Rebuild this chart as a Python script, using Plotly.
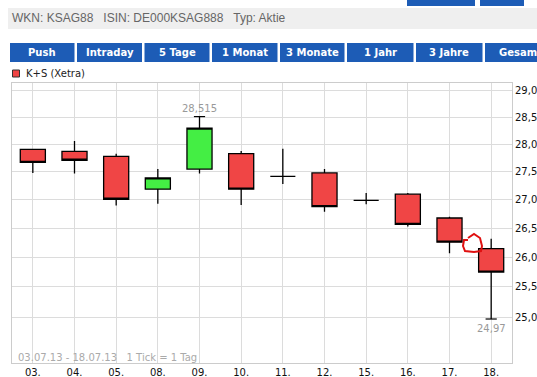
import math
import plotly.graph_objects as go

# ---------------- data ----------------
dates = ["03.", "04.", "05.", "08.", "09.", "10.", "11.", "12.", "15.", "16.", "17.", "18."]
open_ = [27.91, 27.87, 27.78, 27.19, 27.55, 27.83, 27.42, 27.48, 26.99, 27.10, 26.68, 26.15]
close = [27.67, 27.71, 27.01, 27.39, 28.30, 27.19, 27.42, 26.88, 26.99, 26.57, 26.26, 25.75]
high = [27.92, 28.06, 27.83, 27.55, 28.515, 27.88, 27.92, 27.55, 27.12, 27.12, 26.70, 26.32]
low = [27.48, 27.47, 26.90, 26.93, 27.47, 26.91, 27.28, 26.79, 26.92, 26.53, 26.07, 24.97]
y_ticks = [25.0, 25.5, 26.0, 26.5, 27.0, 27.5, 28.0, 28.5, 29.0]
y_tick_labels = ["25,0", "25,5", "26,0", "26,5", "27,0", "27,5", "28,0", "28,5", "29,0"]
tabs = ["Push", "Intraday", "5 Tage", "1 Monat", "3 Monate", "1 Jahr", "3 Jahre", "Gesam"]
series_name = "K+S (Xetra)"
header_text = "WKN: KSAG88   ISIN: DE000KSAG888   Typ: Aktie"
range_text = "03.07.13 - 18.07.13   1 Tick = 1 Tag"

# ---------------- geometry helpers ----------------
W, H = 537, 377
L, R, T, B = 12, 25, 83, 14
PW, PH = W - L - R, H - T - B


def px(X):
    return (X - L) / PW


def py(Y):
    return (H - B - Y) / PH


RED = "#F04545"
GREEN = "#44EE44"
BLUE = "#1D5CB6"
FONT = "DejaVu Sans"

fig = go.Figure()
fig.add_trace(go.Candlestick(
    x=dates, open=open_, high=high, low=low, close=close,
    increasing=dict(fillcolor=GREEN, line=dict(color="black", width=1.3)),
    decreasing=dict(fillcolor=RED, line=dict(color="black", width=1.3)),
    whiskerwidth=0, showlegend=False, hoverinfo="skip", name=series_name,
))

# caps at extreme high / low
i_hi = max(range(len(high)), key=lambda i: high[i])
i_lo = min(range(len(low)), key=lambda i: low[i])
fig.add_trace(go.Scatter(
    x=[dates[i_hi], dates[i_lo]], y=[high[i_hi], low[i_lo]], mode="markers",
    marker=dict(symbol="line-ew", size=8, line=dict(width=1.2, color="black")),
    showlegend=False, hoverinfo="skip",
))


def de(v, nd):
    return f"{v:.{nd}f}".replace(".", ",")


annotations = [
    dict(x=i_hi, y=math.log10(high[i_hi]), xref="x", yref="y", text=de(high[i_hi], 3),
         showarrow=False, yanchor="bottom", yshift=1, font=dict(family=FONT, size=10, color="#999999")),
    dict(x=i_lo, y=math.log10(low[i_lo]), xref="x", yref="y", text=de(low[i_lo], 2),
         showarrow=False, yanchor="top", yshift=-2, font=dict(family=FONT, size=10, color="#999999")),
    dict(x=px(16), y=py(357), xref="paper", yref="paper", text=range_text, showarrow=False,
         xanchor="left", yanchor="middle", font=dict(family=FONT, size=10, color="#AAAAAA")),
    dict(x=px(24), y=py(73.5), xref="paper", yref="paper", text=series_name, showarrow=False,
         xanchor="left", yanchor="middle", font=dict(family=FONT, size=10, color="#222222")),
    dict(x=px(10), y=py(18), xref="paper", yref="paper", text=header_text, showarrow=False,
         xanchor="left", yanchor="middle", font=dict(family="Liberation Sans", size=12, color="#666666")),
]

shapes = [
    # header band
    dict(type="rect", xref="paper", yref="paper", x0=px(8), x1=px(537), y0=py(8), y1=py(29),
         fillcolor="#EFEFEF", line=dict(width=0), layer="below"),
    # top right blue buttons
    dict(type="rect", xref="paper", yref="paper", x0=px(407), x1=px(475), y0=py(0), y1=py(6),
         fillcolor=BLUE, line=dict(width=0)),
    dict(type="rect", xref="paper", yref="paper", x0=px(480), x1=px(524), y0=py(0), y1=py(6),
         fillcolor=BLUE, line=dict(width=0)),
    # legend swatch
    dict(type="rect", xref="paper", yref="paper", x0=px(12.5), x1=px(19.5), y0=py(70), y1=py(77),
         fillcolor=RED, line=dict(width=1, color="#333333")),
]

# tab bar
tab_edges = [10, 77, 144.5, 212, 280, 347, 416, 485, 552]
for i, t in enumerate(tabs):
    x0, x1 = tab_edges[i], tab_edges[i + 1] - 2.5
    shapes.append(dict(type="rect", xref="paper", yref="paper", x0=px(x0), x1=px(x1),
                       y0=py(43), y1=py(62), fillcolor=BLUE, line=dict(width=0)))
    last = i == len(tabs) - 1
    cx = x0 + 12 if last else (x0 + x1) / 2
    annotations.append(dict(x=px(cx), y=py(52.5), xref="paper", yref="paper", text=t,
                            showarrow=False, xanchor="left" if last else "center",
                            yanchor="middle",
                            font=dict(family=FONT, size=10, color="white", weight="bold")))

# red hand-drawn mark between the last two candles
pts = [(468, 238), (474, 234), (480, 238), (482, 246), (481, 251), (474, 252), (465, 251),
       (463, 246), (464, 240), (468, 240)]
path = "M " + " L ".join(f"{px(a):.5f},{py(b):.5f}" for a, b in pts)
shapes.append(dict(type="path", xref="paper", yref="paper", path=path,
                   line=dict(color="#E01010", width=2)))

fig.update_layout(
    width=W, height=H, autosize=False,
    margin=dict(l=L, r=R, t=T, b=B, pad=0, autoexpand=False),
    paper_bgcolor="white", plot_bgcolor="white",
    separators=",.",
    boxgap=0.14,
    showlegend=False,
    annotations=annotations, shapes=shapes,
    xaxis=dict(type="category", range=[-0.5, len(dates) - 0.5], rangeslider=dict(visible=False),
               automargin=False,
               showgrid=True, gridcolor="#DCDCDC", gridwidth=1,
               showline=True, mirror=True, linecolor="#CCCCCC", linewidth=1,
               ticks="", tickfont=dict(family=FONT, size=10, color="#111111"), fixedrange=True),
    yaxis=dict(type="log", side="right", automargin=False,
               range=[math.log10(24.26), math.log10(29.15)],
               tickvals=y_ticks, ticktext=y_tick_labels,
               showgrid=True, gridcolor="#DCDCDC", gridwidth=1,
               showline=True, mirror=True, linecolor="#CCCCCC", linewidth=1,
               ticks="", tickfont=dict(family=FONT, size=10, color="#111111"), fixedrange=True),
)

fig.write_html("out.html", config=dict(displayModeBar=False, responsive=False),
               post_script="document.body.style.margin='0';document.body.style.overflow='hidden';")
